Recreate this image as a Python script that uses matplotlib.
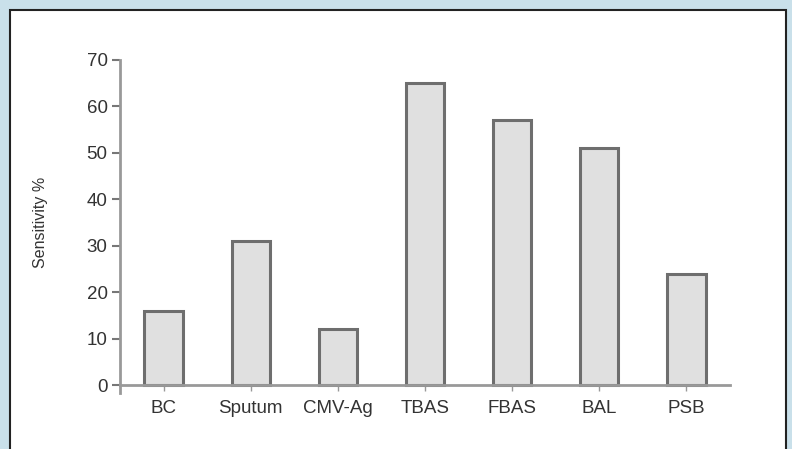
import matplotlib.pyplot as plt
from matplotlib.patches import Rectangle

# 検査法ごとの感度
methods = ["BC", "Sputum", "CMV-Ag", "TBAS", "FBAS", "BAL", "PSB"]
sensitivity = [16, 31, 12, 65, 57, 51, 24]
yticks = [0, 10, 20, 30, 40, 50, 60, 70]

plt.rcParams['font.family'] = ['Liberation Sans', 'DejaVu Sans']

fig = plt.figure(figsize=(7.92, 4.49), dpi=100)
fig.patch.set_facecolor('#c9e0ea')

# 白いパネル（枠付き）、axesより下に描く
panel = Rectangle((10 / 792, -0.01), 776 / 792, 1 - 9.5 / 449 + 0.01,
                  transform=fig.transFigure, facecolor='white',
                  edgecolor='#222222', linewidth=1.5, zorder=-10)
fig.patches.append(panel)

ax = fig.add_axes([120 / 792, 1 - 393 / 449, 610 / 792, 333 / 449])
ax.set_facecolor('none')

x = range(len(methods))
ax.bar(x, sensitivity, width=0.44, color='#e0e0e0', edgecolor='#6e6e6e',
       linewidth=2.2, zorder=2)

ax.set_xlim(-0.5, 6.5)
ax.set_ylim(-1.7, 70)
ax.set_yticks(yticks)
ax.set_xticks(list(x))
ax.set_xticklabels(methods)

for s in ['top', 'right']:
    ax.spines[s].set_visible(False)
ax.spines['bottom'].set_position(('data', 0))
ax.spines['bottom'].set_color('#999999')
ax.spines['left'].set_color('#999999')
ax.spines['bottom'].set_linewidth(2)
ax.spines['left'].set_linewidth(2)

ax.tick_params(axis='y', length=6, width=1.5, color='#777777',
               labelsize=13.5, labelcolor='#333333', pad=3)
ax.tick_params(axis='x', length=4, width=1, color='#999999',
               labelsize=13.5, labelcolor='#333333', pad=6.5)

# 縦軸ラベル
fig.text(40 / 792, 1 - 222 / 449, "Sensitivity %", rotation=90,
         fontsize=11.5, color='#333333', ha='center', va='center')

fig.savefig("out.png", dpi=100, facecolor=fig.get_facecolor())
